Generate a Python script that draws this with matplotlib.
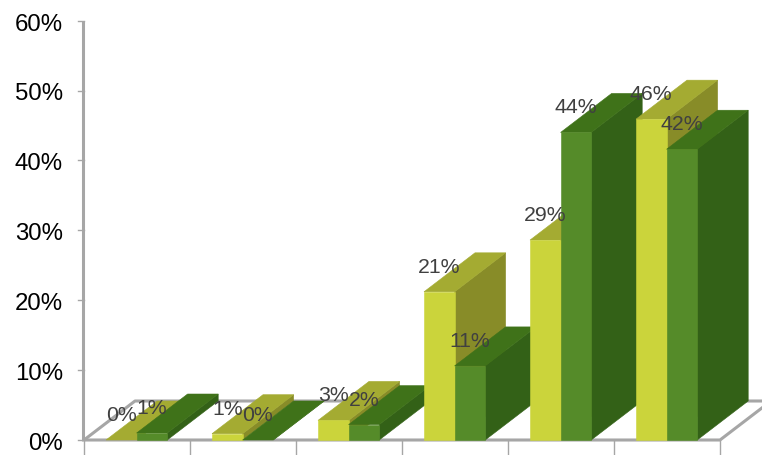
"""Recreates the 3D style clustered percentage bars."""
import matplotlib
matplotlib.use("Agg")
import matplotlib.pyplot as plt
from matplotlib.patches import Polygon

plt.rcParams["font.family"] = ["Liberation Sans", "DejaVu Sans"]

categories = [0, 1, 2, 3, 4, 5]
yellow_values = [0.0, 0.9, 2.8, 21.2, 28.6, 45.9]
green_values = [1.0, 0.0, 2.2, 10.6, 44.0, 41.6]
y_ticks = [0, 10, 20, 30, 40, 50, 60]

YELLOW = ("#cbd43b", "#a4ab32", "#888c28")
GREEN = ("#558b29", "#3f7219", "#336117")
AXIS_COLOR = "#a6a6a6"

# one category is 106 px wide, ten percent is 69.9 px tall
PX_X = 106.0
PX_Y = 6.99
BAR_W = 30.6 / PX_X
BAR_START = 22.0 / PX_X
DEPTH_X = 51.0 / PX_X
DEPTH_Y = 39.0 / PX_Y
LABEL_UP = 25.5 / PX_Y
TICK_LABEL_DOWN = 3.0 / PX_Y
AXIS_SHIFT = 0.7 / PX_X


def draw_bar(ax, x, value, colors):
    """Draws the front, top and side faces of one bar."""
    front, top, side = colors
    x2 = x + BAR_W
    faces = [
        ([(x2, 0), (x2 + DEPTH_X, DEPTH_Y),
          (x2 + DEPTH_X, value + DEPTH_Y), (x2, value)], side),
        ([(x, value), (x2, value),
          (x2 + DEPTH_X, value + DEPTH_Y), (x + DEPTH_X, value + DEPTH_Y)], top),
    ]
    if value > 0:
        faces.append(([(x, 0), (x2, 0), (x2, value), (x, value)], front))
    for points, color in faces:
        ax.add_patch(Polygon(points, closed=True, facecolor=color,
                             edgecolor=color, linewidth=0.4, zorder=3))


def draw_frame(ax):
    """Draws the floor outline, the value axis and the tick marks."""
    n_cats = len(categories)
    line = dict(color=AXIS_COLOR, linewidth=2.2, solid_capstyle="butt", zorder=2)
    ax.plot([0, DEPTH_X, n_cats + DEPTH_X], [0, DEPTH_Y, DEPTH_Y], **line)
    ax.plot([0, n_cats, n_cats + DEPTH_X], [0, 0, DEPTH_Y], **line)
    ax.plot([-AXIS_SHIFT, -AXIS_SHIFT], [-1 / PX_Y, y_ticks[-1]], **line)
    ax.plot([n_cats + DEPTH_X, n_cats + 2 * DEPTH_X], [DEPTH_Y, DEPTH_Y], **line)
    for tick in y_ticks:
        ax.plot([-6 / PX_X, 0], [tick, tick], color=AXIS_COLOR, linewidth=1.0,
                zorder=2)
        ax.text(-21 / PX_X, tick - TICK_LABEL_DOWN, "{}%".format(tick),
                ha="right", va="center", fontsize=17.3, color="black")
    for cat in range(n_cats + 1):
        ax.plot([cat, cat], [0, -16 / PX_Y], color=AXIS_COLOR, linewidth=1.0,
                zorder=2)


def plot_chart(output_file):
    """Builds the whole figure and saves it to `output_file`."""
    fig = plt.figure(figsize=(7.62, 4.56), dpi=100)
    ax = fig.add_axes([0, 0, 1, 1])
    ax.set_xlim(-84 / PX_X, 678 / PX_X)
    ax.set_ylim(-15 / PX_Y, 441 / PX_Y)
    ax.axis("off")
    draw_frame(ax)
    for cat, yellow, green in zip(categories, yellow_values, green_values):
        draw_bar(ax, cat + BAR_START, yellow, YELLOW)
        draw_bar(ax, cat + BAR_START + BAR_W, green, GREEN)
    for cat, yellow, green in zip(categories, yellow_values, green_values):
        for idx, value in enumerate((yellow, green)):
            x = cat + BAR_START + BAR_W * (idx + 0.5)
            ax.text(x, value + LABEL_UP, "{:.0f}%".format(value), ha="center",
                    va="center", fontsize=15.3, color="#404040", zorder=5)
    fig.savefig(output_file, dpi=100)


plot_chart("out.png")
